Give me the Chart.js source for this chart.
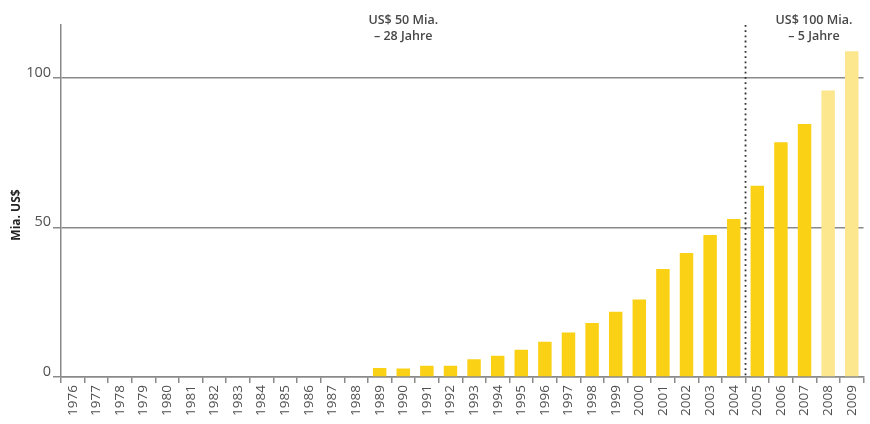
<!DOCTYPE html>
<html>
<head>
<meta charset="utf-8">
<script src="https://cdn.jsdelivr.net/npm/chart.js@4"></script>
<style>
  body { margin: 0; background: #fff; }
  #wrap { width: 870px; height: 424px; position: relative; }
</style>
</head>
<body>
<div id="wrap"><canvas id="fundChart"></canvas></div>
<script>
const years = ["1976","1977","1978","1979","1980","1981","1982","1983","1984","1985","1986","1987","1988",
  "1989","1990","1991","1992","1993","1994","1995","1996","1997","1998","1999","2000","2001","2002","2003",
  "2004","2005","2006","2007","2008","2009"];
const values = [0,0,0,0,0,0,0,0,0,0,0,0,0,
  3,2.8,3.8,3.8,5.9,7.1,9.1,11.8,14.9,18,21.8,25.9,36.1,41.4,47.4,
  52.8,63.9,78.4,84.5,95.7,108.8];
const estimatedYears = ["2008","2009"];
const yTicks = [0, 50, 100];
const notes = [
  { lines: ["US$ 50 Mia.", "– 28 Jahre"], at: 14 },
  { lines: ["US$ 100 Mia.", "– 5 Jahre"], at: 31.4 }
];
const splitAfter = "2004";

const barColor = "#fbd115";
const lightColor = "#fce68e";
const greyLine = "#8a8a8a";
const textGrey = "#505050";

const extras = {
  id: "extras",
  afterDraw(chart) {
    const ctx = chart.ctx;
    const x = chart.scales.x;
    const area = chart.chartArea;
    const step = x.getPixelForValue(1) - x.getPixelForValue(0);

    // dotted divider
    const dx = x.getPixelForValue(years.indexOf(splitAfter)) + step / 2;
    ctx.save();
    ctx.strokeStyle = "#333";
    ctx.lineWidth = 1.8;
    ctx.setLineDash([1.8, 3.4]);
    ctx.beginPath();
    ctx.moveTo(dx, area.top);
    ctx.lineTo(dx, area.bottom);
    ctx.stroke();
    ctx.restore();

    // notes
    ctx.save();
    ctx.fillStyle = "#484848";
    ctx.font = "600 12.5px 'Open Sans', sans-serif";
    ctx.textAlign = "center";
    ctx.textBaseline = "middle";
    notes.forEach(n => {
      const nx = x.getPixelForValue(0) + n.at * step;
      n.lines.forEach((t, i) => ctx.fillText(t, nx, 20 + i * 16));
    });
    ctx.restore();

    // y title
    ctx.save();
    ctx.fillStyle = "#222";
    ctx.font = "bold 12px 'Open Sans', sans-serif";
    ctx.translate(17, 215);
    ctx.rotate(-Math.PI / 2);
    ctx.textAlign = "center";
    ctx.textBaseline = "middle";
    ctx.fillText("Mia. US$", 0, 0);
    ctx.restore();
  }
};

new Chart(document.getElementById("fundChart"), {
  type: "bar",
  data: {
    labels: years,
    datasets: [{
      data: values,
      backgroundColor: years.map(yr => estimatedYears.includes(yr) ? lightColor : barColor),
      barPercentage: 0.57,
      categoryPercentage: 1
    }]
  },
  options: {
    responsive: true,
    maintainAspectRatio: false,
    animation: false,
    layout: { padding: { top: 25, right: 4, left: 0, bottom: 0 } },
    plugins: { legend: { display: false }, tooltip: { enabled: false } },
    scales: {
      x: {
        afterFit: s => { s.height = 47; },
        grid: { drawOnChartArea: false, drawTicks: true, tickLength: 6, color: greyLine, lineWidth: 1.5, offset: true },
        border: { color: greyLine, width: 1.5 },
        ticks: {
          minRotation: 90, maxRotation: 90, autoSkip: false, padding: 2,
          color: textGrey,
          font: { family: "'Open Sans', sans-serif", size: 13.5 }
        }
      },
      y: {
        min: 0, max: 117.6,
        afterFit: s => { s.width = 61; },
        afterBuildTicks: s => { s.ticks = yTicks.map(v => ({ value: v })); },
        grid: { color: greyLine, lineWidth: 1.5, tickLength: 8 },
        border: { color: greyLine, width: 1.5 },
        ticks: {
          padding: 2, color: textGrey,
          font: { family: "'Open Sans', sans-serif", size: 14.5 },
          labelOffset: -5
        }
      }
    }
  },
  plugins: [extras]
});
</script>
</body>
</html>
